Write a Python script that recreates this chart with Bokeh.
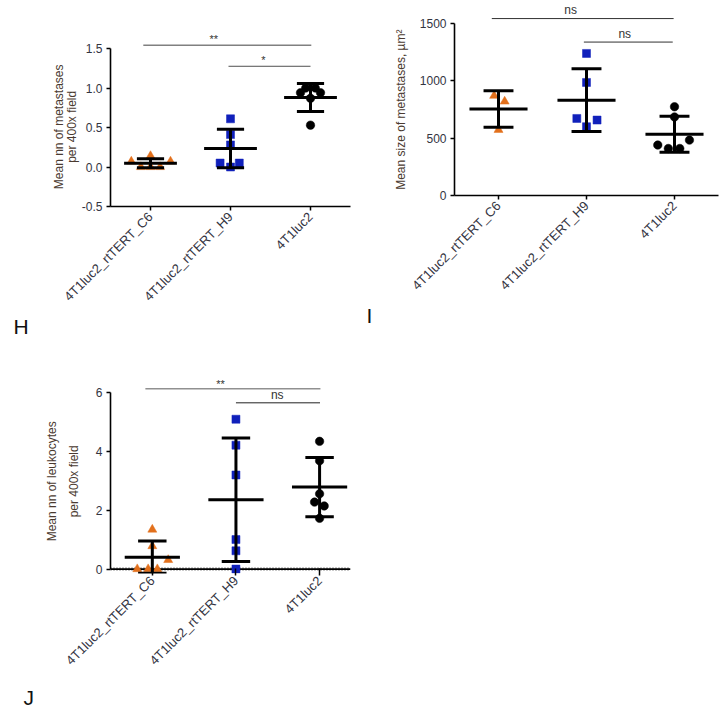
import numpy as np
from math import pi
from bokeh.plotting import figure
from bokeh.models import Range1d, FixedTicker, NumeralTickFormatter, LinearAxis, Title
from bokeh.layouts import column, row
from bokeh.core.properties import value
from bokeh.embed import file_html
from bokeh.resources import INLINE

groups = ["4T1luc2_rtTERT_C6", "4T1luc2_rtTERT_H9", "4T1luc2"]

# ---- Panel H: mean nn of metastases per 400x field
h_c6 = [0.07, 0.14, 0.07, 0.0, 0.0, 0.0]
h_c6_dx = [-0.24, 0.0, 0.25, -0.12, 0.0, 0.12]
h_h9 = [0.61, 0.41, 0.28, 0.05, 0.05, 0.0]
h_h9_dx = [0.0, 0.0, 0.0, -0.13, 0.11, 0.0]
h_4t1 = [1.0, 1.0, 0.94, 0.94, 0.87, 0.53]
h_4t1_dx = [-0.06, 0.06, -0.125, 0.125, 0.0, 0.0]

# ---- Panel I: mean size of metastases, um^2
i_c6 = [870, 820, 573]
i_c6_dx = [-0.05, 0.07, 0.0]
i_h9 = [1239, 986, 672, 658, 600]
i_h9_dx = [0.0, 0.0, -0.11, 0.12, 0.0]
i_4t1 = [774, 685, 483, 440, 410, 410]
i_4t1_dx = [0.0, 0.0, 0.17, -0.19, -0.07, 0.06]

# ---- Panel J: mean nn of leukocytes per 400x field
j_c6 = [1.34, 0.78, 0.31, 0.0, 0.0, 0.0]
j_c6_dx = [0.0, 0.0, 0.19, -0.18, -0.05, 0.06]
j_h9 = [5.08, 4.2, 3.19, 1.0, 0.62, 0.0]
j_h9_dx = [0.0, 0.0, 0.0, 0.0, 0.0, 0.0]
j_4t1 = [4.33, 3.67, 2.55, 2.27, 2.14, 1.72]
j_4t1_dx = [0.0, 0.0, 0.0, -0.06, 0.055, 0.0]

# significance annotations: (x start, x end, bar level, label, label x, colour, width)
h_sig = [(-0.09, 2.01, 1.54, "**", 0.79, "#808080", 1.5), (0.975, 2.0, 1.275, "*", 1.41, "#505050", 1.0)]
i_sig = [(-0.076, 1.99, 1543, "ns", 0.82, "#303030", 1.0), (0.97, 1.98, 1338, "ns", 1.435, "#303030", 1.0)]
j_sig = [(-0.083, 2.01, 6.11, "**", 0.815, "#909090", 1.5), (1.0, 2.005, 5.636, "ns", 1.494, "#202020", 1.0)]

FONT = "Liberation Sans"
TICK_COLOR = "#33343f"
TITLE_COLOR = "#4a3a30"
ORANGE = "#e2701c"
BLUE = "#1020bb"
NB = "\u00a0"


def make_panel(w, h, left, right, top, bottom, xr, yr, ybounds, yticks, yfmt, ytitle, ystand,
               ytitle2=None, ystand2=3, hide_xline=False, xtick_in=0, xtick_out=4, xstand=4):
    p = figure(width=w, height=h, x_range=Range1d(*xr), y_range=Range1d(*yr),
               output_backend="svg", toolbar_location=None, title=None,
               min_border_left=left, min_border_right=right,
               min_border_top=top, min_border_bottom=bottom)
    p.outline_line_color = None
    p.grid.visible = False
    p.background_fill_color = "white"
    p.border_fill_color = "white"
    for ax in (p.xaxis[0], p.yaxis[0]):
        ax.axis_line_color = "black"
        ax.axis_line_width = 1.6
        ax.major_tick_line_color = "black"
        ax.major_tick_line_width = 1.5
        ax.major_tick_in = 0
        ax.major_tick_out = 4
        ax.minor_tick_line_color = None
        ax.major_label_text_font = FONT
        ax.major_label_text_font_size = "12px"
        ax.major_label_text_color = TICK_COLOR
    ya = p.yaxis[0]
    ya.ticker = FixedTicker(ticks=yticks)
    ya.bounds = ybounds
    ya.formatter = NumeralTickFormatter(format=yfmt)
    ya.major_label_standoff = 4
    ya.axis_label = ytitle
    ya.axis_label_standoff = ystand
    ya.axis_label_text_font = FONT
    ya.axis_label_text_font_size = "12px"
    ya.axis_label_text_font_style = "normal"
    ya.axis_label_text_color = TITLE_COLOR
    if ytitle2 is not None:
        ax2 = LinearAxis(ticker=FixedTicker(ticks=[]), bounds=ybounds, axis_label=ytitle2)
        ax2.axis_line_color = None
        ax2.major_tick_line_color = None
        ax2.minor_tick_line_color = None
        ax2.major_tick_out = 0
        ax2.major_tick_in = 0
        ax2.major_label_standoff = 0
        ax2.major_label_text_font_size = "0px"
        ax2.axis_label_standoff = ystand2
        ax2.axis_label_text_font = FONT
        ax2.axis_label_text_font_size = "12px"
        ax2.axis_label_text_font_style = "normal"
        ax2.axis_label_text_color = TITLE_COLOR
        p.add_layout(ax2, "left")
    xa = p.xaxis[0]
    xa.ticker = FixedTicker(ticks=[0, 1, 2])
    xa.major_label_overrides = {0: groups[0], 1: groups[1], 2: groups[2]}
    xa.major_label_orientation = pi / 4
    xa.major_label_standoff = xstand
    xa.major_label_text_font_size = "13px"
    xa.major_tick_in = xtick_in
    xa.major_tick_out = xtick_out
    if hide_xline:
        xa.axis_line_color = None
    return p


def add_group(p, cat, vals, dx, marker, color, size):
    xs = [cat + d for d in dx]
    p.scatter(xs, vals, marker=marker, size=size, fill_color=color, line_color=color, line_width=0.5)


def add_bars(p, datasets):
    cats = [0, 1, 2]
    means = [float(np.mean(d)) for d in datasets]
    sds = [float(np.std(d, ddof=1)) for d in datasets]
    lo = [m - s for m, s in zip(means, sds)]
    hi = [m + s for m, s in zip(means, sds)]
    kw = dict(line_color="black", line_width=3, line_cap="butt")
    p.segment(x0=cats, y0=lo, x1=cats, y1=hi, **kw)
    p.segment(x0=[c - 0.17 for c in cats], y0=lo, x1=[c + 0.17 for c in cats], y1=lo, **kw)
    p.segment(x0=[c - 0.17 for c in cats], y0=hi, x1=[c + 0.17 for c in cats], y1=hi, **kw)
    p.segment(x0=[c - 0.33 for c in cats], y0=means, x1=[c + 0.33 for c in cats], y1=means, **kw)


def add_sig(p, sigs, text_dy):
    for x0, x1, yv, lab, tx, col, lw in sigs:
        p.segment(x0=[x0], y0=[yv], x1=[x1], y1=[yv], line_color=col, line_width=lw)
        is_star = "*" in lab
        p.text(x=[tx], y=[yv + (text_dy[0] if is_star else text_dy[1])], text=[lab],
               text_font=value(FONT), text_font_size="11px" if is_star else "12px",
               text_color="#333333", text_align="center", text_baseline="alphabetic")


def letter(p, txt, offset, standoff):
    p.add_layout(Title(text=txt, align="left", offset=offset, standoff=standoff, text_font=FONT,
                       text_font_size="21px", text_font_style="normal", text_color="#111111"), "below")


# ---------------- Panel H ----------------
# frame: x 110..350 (80 px/unit), y 20..206 (79 px/unit)
pH = make_panel(360, 340, 110, 10, 20, 134, (-0.5, 2.5), (-0.5, -0.5 + 186 / 79),
                (-0.5, 1.5), [-0.5, 0, 0.5, 1.0, 1.5], "0.0",
                "per 400x field" + NB * 8, 0, ytitle2="Mean nn of metastases" + NB * 8, ystand2=-4)
add_group(pH, 0, h_c6, h_c6_dx, "triangle", ORANGE, 9)
add_group(pH, 1, h_h9, h_h9_dx, "square", BLUE, 8)
add_group(pH, 2, h_4t1, h_4t1_dx, "circle", "black", 8.5)
add_bars(pH, [h_c6, h_h9, h_4t1])
add_sig(pH, h_sig, (0.075, 0.07))
letter(pH, "H", -97, 0)

# ---------------- Panel J ----------------
# frame: x 98..360 (91.3 px/unit), y 372..578 (30.23 px/unit)
j_top = -0.15 + 206 / 30.233
pJ = make_panel(360, 375, 98, 0, 32, 137, (-0.5, -0.5 + 262 / 91.3), (-0.15, j_top),
                (0, 6), [0, 2, 4, 6], "0",
                "per 400x field" + NB * 5, 12, ytitle2="Mean nn of leukocytes" + NB * 5, ystand2=5,
                hide_xline=True, xtick_in=5, xtick_out=2, xstand=3)
pJ.segment(x0=[-0.5], y0=[0], x1=[2.37], y1=[0], line_color="#555555", line_width=3.5,
           line_dash="1 2", line_alpha=0.8)
pJ.segment(x0=[-0.5], y0=[0], x1=[2.37], y1=[0], line_color="black", line_width=1.6)
add_group(pJ, 0, j_c6, j_c6_dx, "triangle", ORANGE, 9)
add_group(pJ, 1, j_h9, j_h9_dx, "square", BLUE, 8)
add_group(pJ, 2, j_4t1, j_4t1_dx, "circle", "black", 8.5)
add_bars(pJ, [j_c6, j_h9, j_4t1])
add_sig(pJ, j_sig, (0.16, 0.26))
letter(pJ, "J", -87, 14)

# ---------------- Panel I ----------------
# frame: x 454..718 (88 px/unit), y 0..195 (0.11467 px/unit)
pI = make_panel(366, 340, 94, 8, 0, 145, (-0.5, 2.5), (0, 195 / 0.11467),
                (0, 1500), [0, 500, 1000, 1500], "0",
                "Mean size of metastases, µm²" + NB * 7, 9)
add_group(pI, 0, i_c6, i_c6_dx, "triangle", ORANGE, 9)
add_group(pI, 1, i_h9, i_h9_dx, "square", BLUE, 8)
add_group(pI, 2, i_4t1, i_4t1_dx, "circle", "black", 8.5)
add_bars(pI, [i_c6, i_h9, i_4t1])
add_sig(pI, i_sig, (20, 74))
letter(pI, "I", -88, 0)

layout = row(column(pH, pJ), pI)
open("out.html", "w").write(file_html(layout, INLINE))
